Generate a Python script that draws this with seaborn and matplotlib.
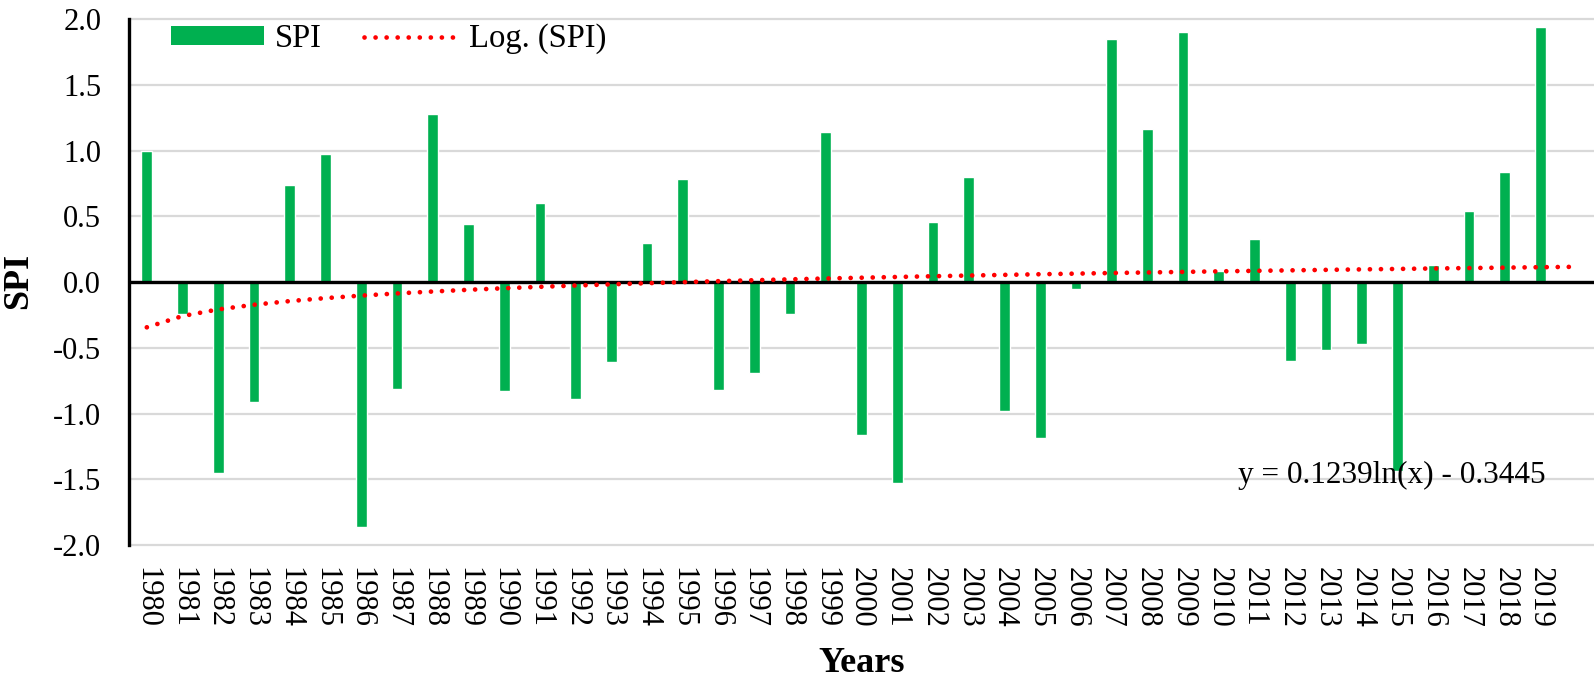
"""
SPI bar chart (1980-2019) with logarithmic trend line.
"""

import numpy as np
import pandas as pd
import matplotlib
matplotlib.use("Agg")
import matplotlib.pyplot as plt
import seaborn as sns
from matplotlib.patches import Patch
from matplotlib.lines import Line2D

YEARS = [str(y) for y in range(1980, 2020)]
SPI = [1.00, -0.24, -1.45, -0.91, 0.74, 0.97, -1.86, -0.81, 1.28, 0.44,
       -0.83, 0.60, -0.89, -0.61, 0.30, 0.78, -0.82, -0.69, -0.24, 1.14,
       -1.16, -1.53, 0.46, 0.80, -0.98, -1.19, -0.05, 1.85, 1.16, 1.90,
       0.08, 0.33, -0.60, -0.52, -0.47, -1.44, 0.13, 0.54, 0.84, 1.94]

# Excel log trendline, as printed on the chart (forecast 1 period forward)
TREND_A = 0.1239
TREND_B = -0.3445
FORWARD = 1

Y_TICKS = [-2.0, -1.5, -1.0, -0.5, 0.0, 0.5, 1.0, 1.5, 2.0]

GREEN = "#00B050"
RED = "#FF0000"
GRID = "#D9D9D9"

sns.set_theme(style="white")
plt.rcParams["font.family"] = ["Liberation Serif", "DejaVu Serif"]
plt.rcParams["axes.unicode_minus"] = False
for key in ["text.color", "axes.labelcolor", "xtick.color", "ytick.color"]:
    plt.rcParams[key] = "black"

df = pd.DataFrame({"year": YEARS, "spi": SPI})

fig = plt.figure(figsize=(15.94, 6.87), dpi=100)
ax = fig.add_axes([0.0809, 0.2067, 0.9191, 0.7656])

sns.barplot(data=df, x="year", y="spi", color=GREEN, saturation=1,
            width=0.3, ax=ax, zorder=3)

# trend evaluated at category positions x = 1..n+forward
n_pts = len(YEARS) + FORWARD
trend_x = np.arange(1, n_pts + 1)
trend_df = pd.DataFrame({"pos": trend_x - 1, "trend": TREND_A * np.log(trend_x) + TREND_B})
dot_style = dict(color=RED, linewidth=3.4, linestyle=(0, (0.01, 2.33)),
                 dash_capstyle="round")
sns.lineplot(data=trend_df, x="pos", y="trend", ax=ax, zorder=5, **dot_style)

ax.set_xlim(-0.5, len(YEARS) + FORWARD - 0.5)
ax.set_ylim(-2.0, 2.0)
ax.set_yticks(Y_TICKS)
ax.set_yticklabels([f"{v:.1f}" for v in Y_TICKS])
ax.set_xticks(range(len(YEARS)))
ax.set_xticklabels(YEARS, rotation=-90)

ax.grid(axis="y", color=GRID, linewidth=1.6, zorder=0)
ax.grid(axis="x", visible=False)
for gl in ax.get_ygridlines():
    gl.set_clip_on(False)
ax.set_axisbelow(True)
ax.axhline(0, color="black", linewidth=2.4, zorder=4)

for side in ["top", "right", "bottom"]:
    ax.spines[side].set_visible(False)
ax.spines["left"].set_color("black")
ax.spines["left"].set_linewidth(2.4)

ax.tick_params(axis="y", length=0, pad=20, labelsize=22, labelcolor="black")
ax.tick_params(axis="x", length=0, pad=16, labelsize=22, labelcolor="black")

ax.set_xlabel("")
ax.set_ylabel("")
fig.text(18.5 / 1594, 1 - 281 / 687, "SPI", rotation=90, fontsize=26,
         fontweight="bold", ha="center", va="center", color="black")
fig.text(862 / 1594, 1 - 664 / 687, "Years", fontsize=26,
         fontweight="bold", ha="center", va="center", color="black")

ax.text(39.16, -1.47, f"y = {TREND_A}ln(x) - {abs(TREND_B)}", fontsize=22.5,
        ha="right", va="center", color="black", zorder=10)

handles = [Patch(facecolor=GREEN, edgecolor="none", label="SPI"),
           Line2D([], [], label="Log. (SPI)", **dot_style)]
leg = ax.legend(handles=handles, loc="center left", bbox_to_anchor=(0.0287, 0.962),
                ncol=2, frameon=False, fontsize=23.5, handlelength=2.85,
                handleheight=0.5, handletextpad=0.34, columnspacing=1.3,
                borderpad=0, borderaxespad=0)
for t in leg.get_texts():
    t.set_color("black")

plt.savefig("out.png", dpi=100)
plt.close()
